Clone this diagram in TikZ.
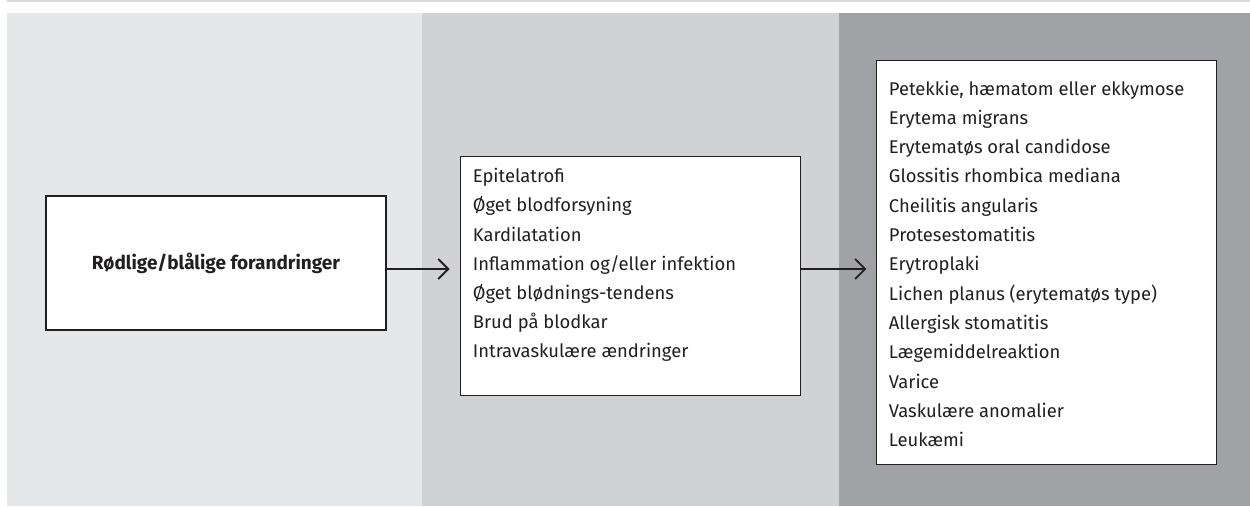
\documentclass[tikz,border=0pt]{standalone}
\usepackage{fontspec}
\setmainfont{Fira Sans}
\usetikzlibrary{arrows.meta,positioning}

\definecolor{panelA}{RGB}{230,231,232}
\definecolor{panelB}{RGB}{209,210,212}
\definecolor{panelC}{RGB}{161,162,166}
\definecolor{rule}{RGB}{218,219,220}
\definecolor{ink}{RGB}{35,31,32}

\tikzset{
  box/.style={draw=ink, fill=white, line width=1.2pt, inner sep=0pt, outer sep=0pt},
  item/.style={anchor=base west, inner sep=0pt, text=ink, font=\fontsize{18.4}{20}\selectfont},
  arr/.style={->, draw=ink, line width=1.8pt}
}

\begin{document}
\begin{tikzpicture}[x=1pt,y=-1pt,>={Straight Barb[length=10pt,width=20pt]}]

\useasboundingbox (0,0) rectangle (1250,506);

% =====================
% Baggrund
% =====================
\draw[rule, line width=1.5pt] (7,1) -- (1250,1);
\fill[panelA] (7,13) rectangle (422,506);
\fill[panelB] (422,13) rectangle (839,506);
\fill[panelC] (839,13) rectangle (1250,506);

% =====================
% Kasser
% =====================
\node[box, minimum width=340, minimum height=134,
      font=\fontsize{19}{20}\selectfont\bfseries, text=ink] (cause) at (216,263) {Rødlige/blålige forandringer};
\node[box, minimum width=340, minimum height=239] (mech) at (630.5,276.3) {};
\node[box, minimum width=340, minimum height=404] (diag) at (1046.3,262.8) {};

% =====================
% Tekst
% =====================
\foreach \t [count=\i] in {Epitelatrofi, Øget blodforsyning, Kardilatation,
    Inflammation og/eller infektion, Øget blødnings-tendens, Brud på blodkar,
    Intravaskulære ændringer}
  \node[item] (mech-\i) at (472.7,182.7+29.2*\i-29.2) {\t};

\foreach \t [count=\i] in {{Petekkie, hæmatom eller ekkymose}, Erytema migrans,
    Erytematøs oral candidose, Glossitis rhombica mediana, Cheilitis angularis,
    Protesestomatitis, Erytroplaki, Lichen planus (erytematøs type),
    Allergisk stomatitis, Lægemiddelreaktion, Varice, Vaskulære anomalier, Leukæmi}
  \node[item] (diag-\i) at (888.7,95+29.3*\i-29.3) {\t};

% =====================
% Pile
% =====================
\coordinate (a1) at (cause.east |- 0,269);
\coordinate (a2) at (mech.west |- 0,269);
\coordinate (b1) at (mech.east |- 0,269);
\coordinate (b2) at (diag.west |- 0,269);
\draw[arr, shorten >=11pt] (a1) -- (a2);
\draw[arr, shorten >=10pt] (b1) -- (b2);

\end{tikzpicture}
\end{document}
